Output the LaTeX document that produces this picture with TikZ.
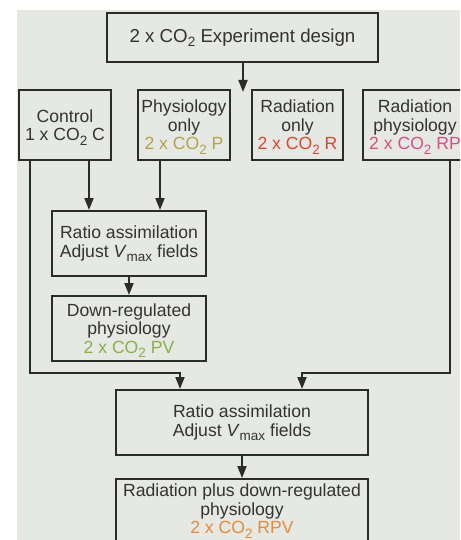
\documentclass[tikz,border=0pt]{standalone}
\usepackage{fontspec}
\setmainfont{Liberation Sans}
\usetikzlibrary{arrows.meta,calc}
\definecolor{bg}{HTML}{E5E8E3}
\definecolor{linec}{HTML}{2B2B2B}
\definecolor{textc}{HTML}{333333}
\definecolor{colP}{HTML}{B3A24E}
\definecolor{colR}{HTML}{E0452E}
\definecolor{colRP}{HTML}{D94C86}
\definecolor{colPV}{HTML}{8AB04A}
\definecolor{colRPV}{HTML}{E88A3A}
\newcommand\sbs[1]{\raisebox{-4.5pt}[0pt][0pt]{\fontsize{13.5}{13.5}\selectfont #1}}
\newcommand\sbd[1]{\raisebox{-4.5pt}{\fontsize{13.5}{13.5}\selectfont #1}}
\begin{document}
\begin{tikzpicture}[x=1pt,y=-1pt,
  box/.style={draw=linec, line width=2pt, rectangle, inner sep=0pt, align=center,
    text=textc, font=\fontsize{17.6}{18.5}\selectfont},
  arr/.style={draw=linec, line width=1.8pt, -{Triangle[length=12pt,width=9pt]}}]
\useasboundingbox (0,0) rectangle (460,540);
\clip (0,0) rectangle (460,540);
\fill[bg] (17,10) rectangle (460,540);

\node[box, font=\fontsize{18.7}{19}\selectfont, minimum width=271pt, minimum height=49pt] (top) at (242.5,37.5)
  {2 x CO\sbs{2} Experiment design};
\coordinate (topend) at (243,92);

\node[box, minimum width=92pt, minimum height=70pt] (ctrl) at (65,125)
  {Control\\1 x CO\sbs{2} C};
\node[box, minimum width=92pt, minimum height=70pt] (phys) at (184,125)
  {Physiology\\only\\\textcolor{colP}{2 x CO\sbs{2} P}};
\node[box, minimum width=91pt, minimum height=70pt] (rad) at (297.5,125)
  {Radiation\\only\\\textcolor{colR}{2 x CO\sbs{2} R}};
\node[box, minimum width=104pt, minimum height=70pt] (rp) at (415,125)
  {Radiation\\physiology\\\textcolor{colRP}{2 x CO\sbs{2} RP}};

\node[box, minimum width=154pt, minimum height=65pt] (r1) at (129,243.5)
  {Ratio assimilation\\Adjust \textit{V}\sbs{max} fields};
\node[box, minimum width=154pt, minimum height=65pt] (down) at (129,328.5)
  {Down-regulated\\physiology\\\textcolor{colPV}{2 x CO\sbs{2} PV}};

\node[box, minimum width=252pt, minimum height=65pt] (r2) at (242,422.5)
  {Ratio assimilation\\Adjust \textit{V}\sbs{max} fields};
\node[box, minimum width=252pt, minimum height=64pt, anchor=north] (bot) at (242,478)
  {Radiation plus down-regulated\\physiology\\\textcolor{colRPV}{2 x CO\sbd{2} RPV}};

\coordinate (jL) at (180,373);
\coordinate (jR) at (302,373);

\draw[arr] (top.south -| topend) -- (topend);
\draw[arr] ([xshift=71pt]ctrl.south west) -- ([xshift=71pt]ctrl.south west |- r1.north);
\draw[arr] ([xshift=23pt]phys.south west) -- ([xshift=23pt]phys.south west |- r1.north);
\draw[arr] (r1.south) -- (down.north);
\draw[arr] ([xshift=12pt]ctrl.south west) |- (jL) -- (jL |- r2.north);
\draw[arr] ([xshift=88pt]rp.south west) |- (jR) -- (jR |- r2.north);
\draw[arr] (r2.south -| bot.north) -- (bot.north);
\end{tikzpicture}
\end{document}
